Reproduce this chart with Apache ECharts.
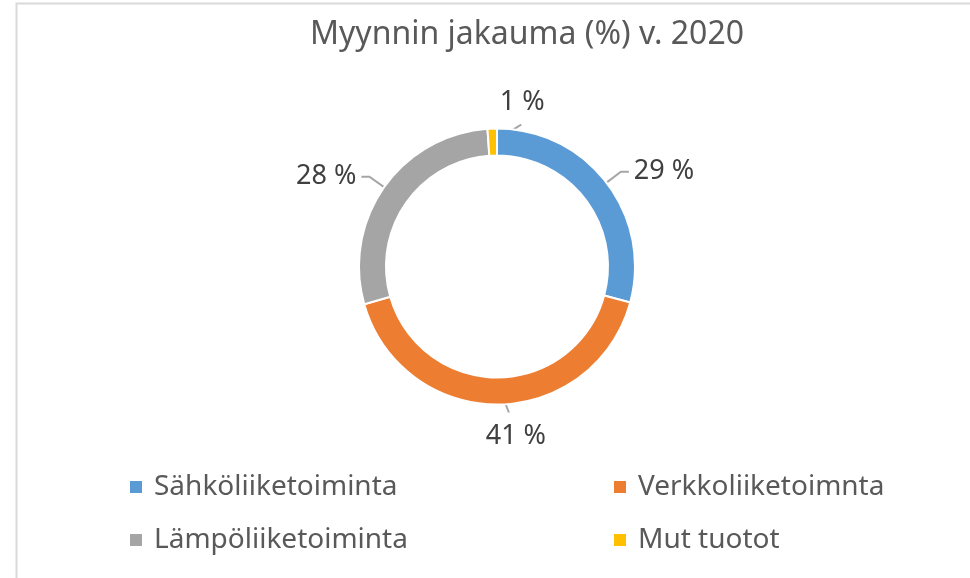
<!DOCTYPE html>
<html>
<head>
<meta charset="utf-8">
<script src="https://cdn.jsdelivr.net/npm/echarts@6/dist/echarts.min.js"></script>
<style>
  html, body { margin: 0; padding: 0; background: #fff; }
  #chart { width: 970px; height: 578px; }
</style>
</head>
<body>
<div id="chart"></div>
<script>
const categories = ["Sähköliiketoiminta", "Verkkoliiketoimnta", "Lämpöliiketoiminta", "Mut tuotot"];
const shares = [29.2, 41.4, 28.3, 1.1];
const colors = ["#5b9bd5", "#ed7d31", "#a5a5a5", "#ffc000"];

const chart = echarts.init(document.getElementById("chart"));

const legendText = {
    fontFamily: "Noto Sans",
    fontSize: 28,
    color: "#595959",
    padding: [0, 0, 0, 6]
};

// Excel puts the small slice's label above-right and the bottom label under its line
function moveLabel(params) {
    const p = params.labelLinePoints;
    if (!p) return;
    const x0 = p[0][0], y0 = p[0][1];
    if (params.dataIndex === 3) {
        return {
            x: x0 + 30, y: y0 - 26, align: "center", verticalAlign: "middle",
            labelLinePoints: [[x0 + 1, y0 + 13], [x0 + 29, y0 - 4]]
        };
    }
    if (params.dataIndex === 1) {
        return {
            x: x0 + 18, y: y0 + 32, align: "center", verticalAlign: "middle",
            labelLinePoints: [[x0 + 2, y0 - 15], [x0 + 11, y0 + 8]]
        };
    }
}

const options = {
    color: colors,
    title: {
        text: "Myynnin jakauma (%) v. 2020",
        left: 527,
        top: 19,
        padding: 0,
        textAlign: "center",
        textStyle: {
            fontFamily: "Noto Sans",
            fontSize: 32,
            fontWeight: "normal",
            color: "#595959"
        }
    },
    legend: [
        {
            orient: "vertical",
            left: 128,
            top: 473,
            padding: 0,
            itemGap: 25,
            itemWidth: 14,
            itemHeight: 14,
            icon: "rect",
            selectedMode: false,
            data: [categories[0], categories[2]],
            textStyle: legendText
        },
        {
            orient: "vertical",
            left: 612,
            top: 473,
            padding: 0,
            itemGap: 25,
            itemWidth: 14,
            itemHeight: 14,
            icon: "rect",
            selectedMode: false,
            data: [categories[1], categories[3]],
            textStyle: legendText
        }
    ],
    graphic: [
        {
            type: "rect",
            shape: { x: 16.5, y: 3.5, width: 1100, height: 700 },
            style: { fill: "none", stroke: "#d9d9d9", lineWidth: 2 },
            silent: true
        }
    ],
    series: [
        {
            type: "pie",
            center: [497, 266.5],
            radius: [111, 138],
            startAngle: 90,
            clockwise: true,
            percentPrecision: 2,
            avoidLabelOverlap: false,
            itemStyle: { borderColor: "#fff", borderWidth: 2 },
            label: {
                show: true,
                position: "outside",
                formatter: p => Math.round(p.percent) + " %",
                fontFamily: "Noto Sans",
                fontSize: 27,
                color: "#404040"
            },
            labelLine: {
                show: true,
                length: 18,
                length2: 8,
                lineStyle: { color: "#a6a6a6", width: 2 }
            },
            labelLayout: moveLabel,
            emphasis: { disabled: true },
            data: categories.map((name, i) => ({ name: name, value: shares[i] }))
        }
    ]
};

chart.setOption(options);
</script>
</body>
</html>
